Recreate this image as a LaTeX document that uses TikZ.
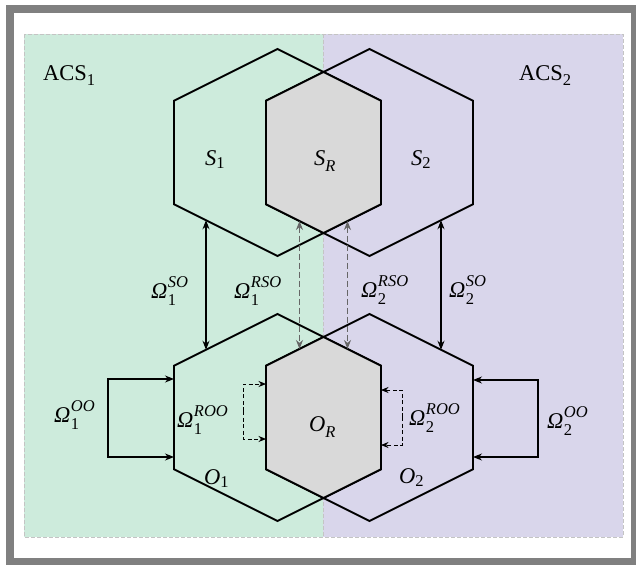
\documentclass[tikz,border=0pt]{standalone}
\usepackage{fontspec}
\setmainfont{Liberation Serif}
\usetikzlibrary{arrows.meta}
\definecolor{acsgreen}{HTML}{CDEBDC}
\definecolor{acspurple}{HTML}{D9D6EB}
\definecolor{hexgray}{HTML}{D9D9D9}
\definecolor{framegray}{HTML}{808080}
\definecolor{edgegray}{HTML}{C4C4C4}
\definecolor{dashdark}{HTML}{666666}
\newcommand{\sfnt}{\fontsize{16.5}{18}\selectfont}
\newcommand{\om}[2]{\textit{Ω}\hspace{0.5pt}\raisebox{-7pt}{\sfnt\begin{tabular}[b]{@{}l@{}}\itshape #2\\ #1\end{tabular}}}
\newcommand{\lsub}[2][-3pt]{\raisebox{#1}{\sfnt #2}}
\newcommand{\hexat}[2]{(#1,#2-103.5) -- ++(103.5,51.75) -- ++(0,103.5) -- ++(-103.5,51.75) -- ++(-103.5,-51.75) -- ++(0,-103.5) -- cycle}
\begin{document}
\begin{tikzpicture}[x=1pt,y=-1pt,
  lbl/.style={inner sep=0pt, anchor=base west, font=\fontsize{22.5}{26}\selectfont},
  hexline/.style={draw=black, line width=1.9pt, line join=miter},
  arr/.style={draw=black, line width=1.2pt, {Stealth[length=9pt,width=7pt]}-{Stealth[length=9pt,width=7pt]}},
  darr/.style={draw=dashdark, line width=1.1pt, dash pattern=on 6pt off 3pt, {Stealth[length=9pt,width=7pt]}-{Stealth[length=9pt,width=7pt]}},
  loopar/.style={draw=black, line width=1.2pt, -{Stealth[length=9pt,width=7pt]}},
  dloopar/.style={draw=black, line width=0.8pt, dash pattern=on 4pt off 2.5pt, -{Stealth[length=7.5pt,width=6pt]}}]
\useasboundingbox (0,0) rectangle (636,564);
% frame and regions
\fill[white] (0,0) rectangle (636,564);
\fill[acsgreen] (24,34) rectangle (323,537);
\fill[acspurple] (323,34) rectangle (623,537);
\draw[edgegray, line width=0.9pt, dash pattern=on 4pt off 2pt] (24,34) rectangle (623,537);
\draw[edgegray, line width=0.9pt, dash pattern=on 4pt off 2pt] (323,34) -- (323,537);
\draw[framegray, line width=8pt] (10,9) rectangle (635,562);
% hexagons
\coordinate (s1) at (277.5,152.5);
\coordinate (s2) at (369.5,152.5);
\coordinate (o1) at (277.5,417.5);
\coordinate (o2) at (369.5,417.5);
\draw[hexline] \hexat{277.5}{152.5};
\draw[hexline] \hexat{369.5}{152.5};
\draw[hexline, fill=hexgray] (323.5,72) -- (381,100.75) -- (381,204.25) -- (323.5,233) -- (266,204.25) -- (266,100.75) -- cycle;
\draw[hexline] \hexat{277.5}{417.5};
\draw[hexline] \hexat{369.5}{417.5};
\draw[hexline, fill=hexgray] (323.5,337) -- (381,365.75) -- (381,469.25) -- (323.5,498) -- (266,469.25) -- (266,365.75) -- cycle;
% labels
\node[lbl] (acs1) at (43,80.5) {ACS\lsub[-5pt]{1}};
\node[lbl] (acs2) at (519,80.5) {ACS\lsub[-5pt]{2}};
\node[lbl] (ls1) at (205,165) {\textit{S}\lsub{1}};
\node[lbl] (lsr) at (314,165) {\textit{S}\lsub[-6pt]{\itshape R}};
\node[lbl] (ls2) at (411,165) {\textit{S}\lsub{2}};
\node[lbl] (lor) at (309,431) {\textit{O}\lsub[-6pt]{\itshape R}};
\node[lbl] (lo1) at (204,484) {\textit{O}\lsub{1}};
\node[lbl] (lo2) at (399,483) {\textit{O}\lsub{2}};
\node[lbl] (w1so) at (151,298) {\om{1}{SO}};
\node[lbl] (w1rso) at (234,298) {\om{1}{RSO}};
\node[lbl] (w2rso) at (361,297) {\om{2}{RSO}};
\node[lbl] (w2so) at (449,297) {\om{2}{SO}};
\node[lbl] (w1oo) at (54,422) {\om{1}{OO}};
\node[lbl] (w1roo) at (177,427) {\om{1}{ROO}};
\node[lbl] (w2roo) at (409,425) {\om{2}{ROO}};
\node[lbl] (w2oo) at (547,428) {\om{2}{OO}};
% connector end points
\coordinate (a1t) at (206,220.25);  \coordinate (a1b) at (206,349.75);
\coordinate (a2t) at (441,220.25);  \coordinate (a2b) at (441,349.75);
\coordinate (d1t) at (299.5,221);   \coordinate (d1b) at (299.5,349);
\coordinate (d2t) at (347.5,221);   \coordinate (d2b) at (347.5,349);
\coordinate (l1m) at (108,418); \coordinate (l1t) at (174,379); \coordinate (l1b) at (174,457);
\coordinate (r1m) at (538,418); \coordinate (r1t) at (473,380); \coordinate (r1b) at (473,457);
\coordinate (dl1m) at (243,411); \coordinate (dl1t) at (266,384); \coordinate (dl1b) at (266,439);
\coordinate (dr1m) at (402,417); \coordinate (dr1t) at (381,390); \coordinate (dr1b) at (381,445);
% connectors
\draw[arr] (a1t) -- (a1b);
\draw[arr] (a2t) -- (a2b);
\draw[darr] (d1t) -- (d1b);
\draw[darr] (d2t) -- (d2b);
\draw[loopar] (l1m) |- (l1t);
\draw[loopar] (l1m) |- (l1b);
\draw[loopar] (r1m) |- (r1t);
\draw[loopar] (r1m) |- (r1b);
\draw[dloopar] (dl1m) |- (dl1t);
\draw[dloopar] (dl1m) |- (dl1b);
\draw[dloopar] (dr1m) |- (dr1t);
\draw[dloopar] (dr1m) |- (dr1b);
\end{tikzpicture}
\end{document}
